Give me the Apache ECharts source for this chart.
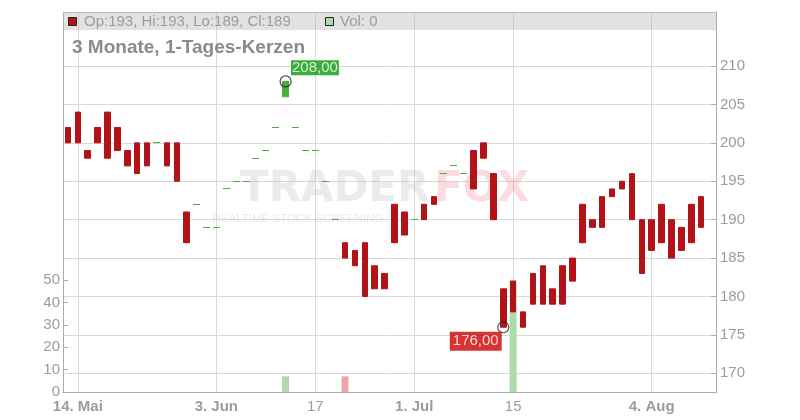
<!DOCTYPE html>
<html><head><meta charset="utf-8">
<script src="https://cdn.jsdelivr.net/npm/echarts@6/dist/echarts.min.js"></script>
<style>html,body{margin:0;padding:0;background:#fff}#c{width:800px;height:420px}</style>
</head><body><div id="c"></div>
<script>
const dates = [
 '2025-05-13','2025-05-14','2025-05-15','2025-05-16','2025-05-19','2025-05-20','2025-05-21','2025-05-22','2025-05-23','2025-05-26','2025-05-27','2025-05-28','2025-05-29','2025-05-30',
 '2025-06-02','2025-06-03','2025-06-04','2025-06-05','2025-06-06','2025-06-09','2025-06-10','2025-06-11','2025-06-12','2025-06-13','2025-06-16','2025-06-17','2025-06-18','2025-06-19','2025-06-20','2025-06-23','2025-06-24','2025-06-25','2025-06-26','2025-06-27','2025-06-30',
 '2025-07-01','2025-07-02','2025-07-03','2025-07-04','2025-07-07','2025-07-08','2025-07-09','2025-07-10','2025-07-11','2025-07-14','2025-07-15','2025-07-16','2025-07-17','2025-07-18','2025-07-21','2025-07-22','2025-07-23','2025-07-24','2025-07-25','2025-07-28','2025-07-29','2025-07-30','2025-07-31',
 '2025-08-01','2025-08-04','2025-08-05','2025-08-06','2025-08-07','2025-08-08','2025-08-11'
];
const opens  = [202,204,199,202,204,202,199,200,200,200,200,200,191,192,189,189,194,195,195,198,199,202,206,202,199,199,195,190,187,186,187,184,183,192,191,190,192,193,196,197,196,199,200,196,181,182,178,183,184,181,184,185,192,190,193,194,195,196,190,190,192,190,189,192,193];
const closes = [200,200,198,200,198,199,197,196,197,200,197,195,187,192,189,189,194,195,195,198,199,202,208,202,199,199,195,190,185,184,180,181,181,187,188,190,190,192,196,197,196,194,198,190,176,178,176,179,179,179,179,182,187,189,189,193,194,190,183,186,187,185,186,187,189];
const highs  = [202,204,199,202,204,202,199,200,200,200,200,200,191,192,189,189,194,195,195,198,199,202,208,202,199,199,195,190,187,186,187,184,183,192,191,190,192,193,196,197,196,199,200,196,181,182,178,183,184,181,184,185,192,190,193,194,195,196,190,190,192,190,189,192,193];
const lows   = [200,200,198,200,198,199,197,196,197,200,197,195,187,192,189,189,194,195,195,198,199,202,206,202,199,199,195,190,185,184,180,181,181,187,188,190,190,192,196,197,196,194,198,190,176,178,176,179,179,179,179,182,187,189,189,193,194,190,183,186,187,185,186,187,189];
const volumes = [0,0,0,0,0,0,0,0,0,0,0,0,0,0,0,0,0,0,0,0,0,0,7,0,0,0,0,0,7,0,0,0,0,0,0,0,0,0,0,0,0,0,0,0,0,50,0,0,0,0,0,0,0,0,0,0,0,0,0,0,0,0,0,0,0];
const tickDates = ['2025-05-14','2025-06-03','2025-06-17','2025-07-01','2025-07-15','2025-08-04'];
const tickTexts = ['14. Mai','3. Jun','17','1. Jul','15','4. Aug'];
const tickBold  = [true,true,false,true,false,true];
const priceTicks = [170,175,180,185,190,195,200,205,210];
const volTicks = [0,10,20,30,40,50];
const titleText = '3 Monate, 1-Tages-Kerzen';

const FONT = '"Liberation Sans", Arial, sans-serif';
const RED = '#b11318', GREEN = '#4cae3a', VOL_UP = '#acdcaa', VOL_DOWN = '#efa5ad';
const LABEL = '#9c9c9c', GRID = '#d9d9d9', AXIS = '#ababab';

const categories = dates.concat(['']);
const candleData = dates.map((d, i) => [opens[i], closes[i], lows[i], highs[i]]);
const dojiData = [];
dates.forEach((d, i) => { if (opens[i] === closes[i]) dojiData.push([i, closes[i]]); });
const volData = volumes.map((v, i) => ({
  value: v,
  itemStyle: { color: (i > 0 && closes[i] < closes[i - 1]) ? VOL_DOWN : VOL_UP }
}));
let hiIdx = 0, loIdx = 0;
for (let i = 1; i < highs.length; i++) {
  if (highs[i] > highs[hiIdx]) hiIdx = i;
  if (lows[i] < lows[loIdx]) loIdx = i;
}
const fmt = v => v.toFixed(2).replace('.', ',');
const last = dates.length - 1;
const showTick = (i, v) => tickDates.indexOf(v) >= 0;

const chart = echarts.init(document.getElementById('c'), null, { renderer: 'canvas' });
chart.setOption({
  animation: false,
  backgroundColor: '#fff',
  grid: { left: 63, right: 84, top: 12, bottom: 28 },
  xAxis: {
    type: 'category', data: categories, boundaryGap: true,
    axisLine: { lineStyle: { color: AXIS } },
    axisTick: { interval: showTick, alignWithLabel: true, length: 4, lineStyle: { color: AXIS } },
    axisLabel: {
      interval: showTick, margin: 7,
      formatter: v => { const k = tickDates.indexOf(v); return k < 0 ? '' : (tickBold[k] ? '{b|' : '{n|') + tickTexts[k] + '}'; },
      rich: {
        b: { fontFamily: FONT, fontSize: 15, fontWeight: 'bold', color: LABEL },
        n: { fontFamily: FONT, fontSize: 15, color: LABEL }
      }
    },
    splitLine: { show: true, interval: showTick, alignWithLabel: true, lineStyle: { color: GRID } }
  },
  yAxis: [
    {
      type: 'value', position: 'right', min: 167.57, max: 217.03,
      axisLine: { show: true, lineStyle: { color: AXIS } },
      axisTick: { show: true, inside: true, length: 5, customValues: priceTicks, lineStyle: { color: AXIS } },
      axisLabel: { customValues: priceTicks, color: LABEL, fontSize: 15, fontFamily: FONT, margin: 4 },
      splitLine: { show: true, lineStyle: { color: GRID } }
    },
    {
      type: 'value', position: 'left', min: 0, max: 170,
      axisLine: { show: true, lineStyle: { color: AXIS } },
      axisTick: { show: true, inside: true, length: 5, customValues: volTicks, lineStyle: { color: AXIS } },
      axisLabel: { customValues: volTicks, color: LABEL, fontSize: 15, fontFamily: FONT, margin: 3 },
      splitLine: { show: false }
    }
  ],
  series: [
    {
      type: 'bar', yAxisIndex: 1, data: volData, barWidth: 7, z: 2, silent: true
    },
    {
      type: 'candlestick', yAxisIndex: 0, data: candleData, barWidth: 6, z: 3, silent: true,
      itemStyle: { color: GREEN, color0: RED, borderColor: GREEN, borderColor0: RED, borderColorDoji: 'rgba(0,0,0,0)', borderWidth: 1 }
    },
    {
      type: 'custom', yAxisIndex: 0, z: 4, silent: true, data: dojiData,
      renderItem: (params, api) => {
        const p = api.coord([api.value(0), api.value(1)]);
        return { type: 'rect', shape: { x: Math.round(p[0] - 3.5), y: Math.round(p[1] - 0.5), width: 7, height: 1 }, style: { fill: GREEN } };
      }
    },
    {
      type: 'scatter', yAxisIndex: 0, z: 5, silent: true, symbol: 'circle', symbolSize: 11,
      data: [[hiIdx, highs[hiIdx]]],
      itemStyle: { color: 'rgba(255,255,255,0)', borderColor: '#222', borderWidth: 1.2 },
      label: { show: true, formatter: fmt(highs[hiIdx]), position: [11.5, 0], align: 'left', verticalAlign: 'bottom',
        backgroundColor: '#0a980a', color: '#fff', fontSize: 15, fontFamily: FONT, lineHeight: 15, padding: [0, 1, 0, 1] }
    },
    {
      type: 'scatter', yAxisIndex: 0, z: 5, silent: true, symbol: 'circle', symbolSize: 11,
      data: [[loIdx, lows[loIdx]]],
      itemStyle: { color: 'rgba(255,255,255,0)', borderColor: '#222', borderWidth: 1.2 },
      label: { show: true, formatter: fmt(lows[loIdx]), position: [4.5, 10.5], align: 'right', verticalAlign: 'top',
        backgroundColor: '#cc0000', color: '#fff', fontSize: 15, fontFamily: FONT, lineHeight: 15, padding: [2, 3, 2, 3] }
    }
  ],
  graphic: [
    { type: 'text', x: 240, y: 190, z: 1, silent: true,
      style: { text: 'TRADER', font: 'bold 42px "DejaVu Sans"', fill: 'rgba(170,170,170,0.24)', verticalAlign: 'middle', textVerticalAlign: 'middle' } },
    { type: 'text', x: 434, y: 190, z: 1, silent: true,
      style: { text: 'FOX', font: 'bold 42px "DejaVu Sans"', fill: 'rgba(245,120,135,0.26)', verticalAlign: 'middle', textVerticalAlign: 'middle' } },
    { type: 'text', x: 250, y: 219, z: 1, silent: true, scaleX: 1.15, originX: 250,
      style: { text: 'REALTIME STOCK SCREENING', font: '10px ' + FONT, fill: 'rgba(170,170,170,0.26)', verticalAlign: 'middle', textVerticalAlign: 'middle' } },
    { type: 'rect', z: 10, silent: true, shape: { x: 63, y: 12, width: 653, height: 18 }, style: { fill: 'rgba(175,175,175,0.36)' } },
    { type: 'line', z: 11, silent: true, shape: { x1: 63, y1: 12.5, x2: 716, y2: 12.5 }, style: { stroke: '#bbbbbb', lineWidth: 1 } },
    { type: 'rect', z: 11, silent: true, shape: { x: 68.5, y: 17.5, width: 8, height: 8 }, style: { fill: RED, stroke: '#222', lineWidth: 1 } },
    { type: 'text', x: 84, y: 21.5, z: 11, silent: true,
      style: { text: 'Op:' + opens[last] + ', Hi:' + highs[last] + ', Lo:' + lows[last] + ', Cl:' + closes[last], font: '15px ' + FONT, fill: LABEL, verticalAlign: 'middle', textVerticalAlign: 'middle' } },
    { type: 'rect', z: 11, silent: true, shape: { x: 325.5, y: 17.5, width: 8, height: 8 }, style: { fill: VOL_UP, stroke: '#222', lineWidth: 1 } },
    { type: 'text', x: 340, y: 21.5, z: 11, silent: true,
      style: { text: 'Vol: ' + volumes[last], font: '15px ' + FONT, fill: LABEL, verticalAlign: 'middle', textVerticalAlign: 'middle' } },
    { type: 'text', x: 72, y: 47.5, z: 11, silent: true,
      style: { text: titleText, font: 'bold 19px ' + FONT, fill: '#8a8a8a', verticalAlign: 'middle', textVerticalAlign: 'middle' } }
  ]
});
</script>
</body></html>
